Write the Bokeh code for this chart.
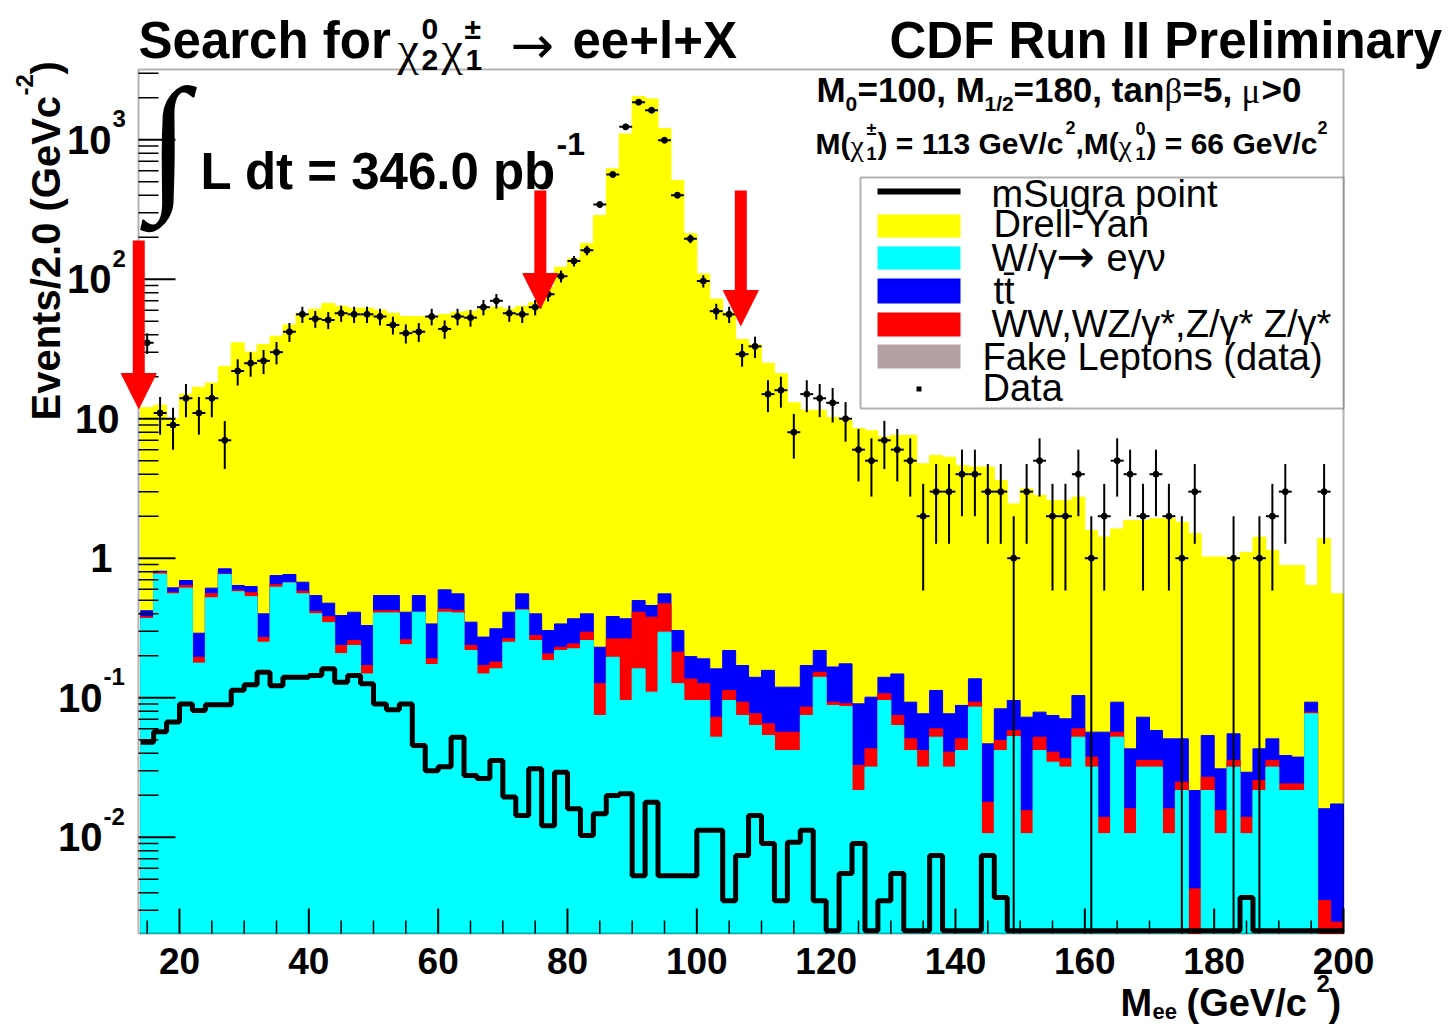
import numpy as np
from bokeh.plotting import figure
from bokeh.models import Range1d, Label, BoxAnnotation, Arrow, NormalHead
from bokeh.embed import file_html
from bokeh.resources import INLINE

# ---------------- data ----------------
bin_low_edge = 14.0
bin_width = 2.0

data_counts = [35, 11, 9, 14, 11, 14, 7, 22, 25, 26,
               30, 42, 56, 52, 51, 57, 56, 56, 54, 47,
               41, 42, 54, 44, 54, 53, 63, 70, 57, 56,
               63, 78, 105, 135, 161, 343, 563, 1236, 1858, 1626,
               991, 400, 195, 97, 59, 56, 29, 33, 15, 16,
               8, 15, 14, 13, 10, 6, 5, 7, 6, 5,
               2, 3, 3, 4, 4, 3, 3, 1, 3, 5,
               2, 2, 4, 1, 2, 5, 4, 2, 4, 2,
               1, 3, 0, 0, 1, 0, 1, 2, 3, 0,
               0, 3, 0]

# cumulative stack heights (top edge of each coloured layer)
drell_yan_top = [12, 12.5, 10, 15, 16.8, 18, 23.7, 35, 30, 34,
                 39, 47, 56, 61, 67, 64, 62, 62, 60, 57,
                 54, 54, 52, 56, 58, 59, 61, 63, 61, 64,
                 68, 88, 122, 140, 180, 286, 618, 1100, 2040, 1960,
                 1200, 510, 212, 109, 72, 58, 37, 34, 25, 21,
                 13, 11.5, 11.5, 10.2, 9.7, 8.5, 8.2, 7.4, 7.6, 7.6,
                 4.75, 5.45, 5.3, 4.6, 4.5, 4.5, 3.6, 2.45, 3.14, 2.82,
                 2.59, 2.59, 2.74, 1.58, 1.42, 1.62, 1.86, 1.86, 1.92, 1.92,
                 1.81, 1.5, 1.02, 1.02, 1.02, 1.1, 1.415, 1.136, 0.886, 0.886,
                 0.637, 1.38, 0.555]

ttbar_top = [0.42, 0.807, 0.613, 0.692, 0.29, 0.61, 0.839, 0.637, 0.627, 0.399,
             0.751, 0.764, 0.673, 0.54, 0.476, 0.388, 0.41, 0.329, 0.54, 0.54,
             0.41, 0.54, 0.338, 0.593, 0.555, 0.348, 0.272, 0.312, 0.41, 0.555,
             0.399, 0.303, 0.338, 0.368, 0.399, 0.230, 0.382, 0.368, 0.497, 0.458,
             0.555, 0.303, 0.197, 0.190, 0.161, 0.218, 0.170, 0.140, 0.157, 0.119,
             0.119, 0.170, 0.218, 0.166, 0.175, 0.0904, 0.1009, 0.140, 0.148, 0.0929,
             0.0767, 0.1126, 0.0767, 0.088, 0.1366, 0.0467, 0.0832, 0.0955, 0.0725, 0.0788,
             0.0746, 0.0706, 0.1037, 0.0566, 0.0566, 0.0929, 0.043, 0.0725, 0.0582, 0.0507,
             0.0507, 0.0216, 0.0536, 0.0309, 0.0551, 0.0292, 0.043, 0.0507, 0.0385, 0.0375,
             0.0929, 0.016, 0.0173]

diboson_top = [0.38, 0.79, 0.57, 0.635, 0.195, 0.555, 0.77, 0.59, 0.565, 0.27,
               0.645, 0.67, 0.58, 0.415, 0.38, 0.237, 0.257, 0.17, 0.42, 0.42,
               0.26, 0.41, 0.19, 0.43, 0.42, 0.237, 0.17, 0.18, 0.265, 0.43,
               0.279, 0.206, 0.230, 0.243, 0.295, 0.126, 0.264, 0.264, 0.410, 0.378,
               0.471, 0.212, 0.136, 0.126, 0.0725, 0.1126, 0.0929, 0.0767, 0.065, 0.0566,
               0.0566, 0.0856, 0.152, 0.0929, 0.0904, 0.0327, 0.043, 0.1066, 0.0746, 0.0507,
               0.0418, 0.0598, 0.0407, 0.0507, 0.0929, 0.0178, 0.0493, 0.0582, 0.0155, 0.0521,
               0.0407, 0.0365, 0.0598, 0.0375, 0.0139, 0.0566, 0.016, 0.0355, 0.0355, 0.016,
               0.0248, 0.00426, 0.0269, 0.0155, 0.0355, 0.0139, 0.0255, 0.0355, 0.0241, 0.0241,
               0.0788, 0.00352, 0.00246]

w_gamma_top = [0.37, 0.77, 0.555, 0.61, 0.177, 0.52, 0.765, 0.575, 0.53, 0.25,
               0.62, 0.665, 0.555, 0.40, 0.345, 0.207, 0.237, 0.148, 0.405, 0.405,
               0.24, 0.41, 0.173, 0.41, 0.405, 0.218, 0.148, 0.161, 0.25, 0.425,
               0.257, 0.185, 0.218, 0.224, 0.257, 0.0746, 0.195, 0.0955, 0.161, 0.1096,
               0.295, 0.126, 0.0955, 0.0955, 0.0521, 0.0955, 0.0746, 0.0632, 0.0536, 0.0418,
               0.0418, 0.0746, 0.140, 0.088, 0.0865, 0.0216, 0.0318, 0.0955, 0.0632, 0.0418,
               0.0318, 0.0521, 0.0318, 0.0418, 0.0856, 0.0106, 0.0418, 0.0527, 0.0106, 0.0418,
               0.0345, 0.0318, 0.0521, 0.0318, 0.0106, 0.0521, 0.0106, 0.0318, 0.0318, 0.0106,
               0.0216, 0, 0.0216, 0.0106, 0.0318, 0.0106, 0.0216, 0.0318, 0.0216, 0.0216,
               0.0767, 0, 0]

msugra = [0.048, 0.057, 0.067, 0.090, 0.081, 0.089, 0.089, 0.113, 0.124, 0.152,
          0.122, 0.140, 0.140, 0.144, 0.161, 0.129, 0.144, 0.126, 0.090, 0.082,
          0.090, 0.0454, 0.030, 0.032, 0.052, 0.0277, 0.0263, 0.0355, 0.0194, 0.0143,
          0.0309, 0.0121, 0.0292, 0.0160, 0.0103, 0.0147, 0.0199, 0.0205, 0.0053, 0.0178,
          0.0053, 0.0053, 0.0053, 0.0112, 0.0112, 0.0035, 0.0074, 0.0143, 0.0090, 0.0035,
          0.0092, 0.0112, 0.0035, 0, 0.0055, 0.0090, 0, 0.0035, 0.0055, 0,
          0, 0.0074, 0, 0, 0, 0.0074, 0.0037, 0, 0, 0,
          0, 0, 0, 0, 0, 0, 0, 0, 0, 0,
          0, 0, 0, 0, 0, 0.0037, 0, 0, 0, 0,
          0, 0, 0]

x_major_ticks = [20, 40, 60, 80, 100, 120, 140, 160, 180, 200]
x_minor_ticks = [v for v in range(15, 201, 5) if v % 20]
y_decades = [-2, -1, 0, 1, 2, 3]
cut_arrow_x = [13.7, 75.8, 106.8]

legend_entries = ["mSugra point", "Drell-Yan", "W/\u03b3", "tt\u0304",
                  "WW,WZ/\u03b3*,Z/\u03b3* Z/\u03b3*", "Fake Leptons (data)", "Data"]
legend_colors = [None, "#ffff00", "#00ffff", "#0000ff", "#ff0000", "#b3a1a1", None]

# ---------------- geometry (frame of the histogram inside the canvas) ----------------
W, H = 1450, 1026
FL, FR, FT, FB = 138, 1343, 69, 933
X0, X1 = 13.66, 200.0
LY0, LY1 = -2.6903, 3.5032
Y0, Y1 = 10 ** LY0, 10 ** LY1


def px2x(px):
    return X0 + (px - FL) * (X1 - X0) / (FR - FL)


def x2px(x):
    return FL + (x - X0) * (FR - FL) / (X1 - X0)


def py2y(py):
    return 10 ** (LY1 - (py - FT) * (LY1 - LY0) / (FB - FT))


def ly2py(ly):
    return FT + (LY1 - ly) * (FB - FT) / (LY1 - LY0)


# the plotting frame covers the whole canvas; the histogram box is drawn inside it
p = figure(width=W, height=H, x_range=Range1d(px2x(0), px2x(W)),
           y_range=Range1d(py2y(H), py2y(0)), y_axis_type="log",
           x_axis_location=None, y_axis_location=None,
           output_backend="svg", toolbar_location=None, title_location=None,
           min_border=0, min_border_left=0, min_border_right=0,
           min_border_top=0, min_border_bottom=0)
p.background_fill_color = "white"
p.border_fill_color = "white"
p.outline_line_color = None
p.grid.visible = False

# ---------------- histograms ----------------
n_bins = len(data_counts)
edges = bin_low_edge + bin_width * np.arange(n_bins + 1)
left, right = edges[:-1], edges[1:]
centers = 0.5 * (left + right)

for tops, color in [(drell_yan_top, "#ffff00"), (ttbar_top, "#0000ff"),
                    (diboson_top, "#ff0000"), (w_gamma_top, "#00ffff")]:
    t = np.asarray(tops, float)
    m = t > 0
    p.quad(left=left[m], right=right[m], bottom=Y0, top=t[m],
           fill_color=color, line_color=color, line_width=1)

ms = np.asarray(msugra, float)
ms_plot = np.where(ms > 0, ms, Y0 * 1.045)
p.step(x=np.append(left, right[-1]), y=np.append(ms_plot, ms_plot[-1]), mode="after",
       line_color="black", line_width=5)

n = np.asarray(data_counts, float)
m = n > 0
err = np.sqrt(n)
lo = np.maximum(n - err, Y0)
hi = n + err
p.segment(x0=centers[m], y0=lo[m], x1=centers[m], y1=hi[m], line_color="black", line_width=2)
p.segment(x0=left[m], y0=n[m], x1=right[m], y1=n[m], line_color="black", line_width=2)
p.scatter(centers[m], n[m], size=6, color="black")

# ---------------- axes: ticks drawn inward ----------------
yd = np.array(y_decades, float)
y_major = 10.0 ** yd
y_minor = np.array([k * 10.0 ** d for d in range(-3, 4) for k in range(2, 10)
                    if Y0 <= k * 10.0 ** d <= Y1])
p.segment(x0=np.full(len(y_major), X0), y0=y_major, x1=np.full(len(y_major), px2x(FL + 37)),
          y1=y_major, line_color="black", line_width=2)
p.segment(x0=np.full(len(y_minor), X0), y0=y_minor, x1=np.full(len(y_minor), px2x(FL + 20)),
          y1=y_minor, line_color="black", line_width=1.5)
xm = np.array(x_major_ticks, float)
xn = np.array(x_minor_ticks, float)
p.segment(x0=xm, y0=np.full(len(xm), Y0), x1=xm, y1=np.full(len(xm), py2y(FB - 25)),
          line_color="black", line_width=2)
p.segment(x0=xn, y0=np.full(len(xn), Y0), x1=xn, y1=np.full(len(xn), py2y(FB - 13)),
          line_color="black", line_width=1.5)

p.add_layout(BoxAnnotation(left=X0, right=X1, bottom=Y0, top=Y1, fill_alpha=0.0,
                           fill_color=None, line_color="black", line_width=2))

# ---------------- cut arrows ----------------
arrow_py = [(240, 408), (190, 308), (190, 325)]
for ax_, (ys, ye) in zip(cut_arrow_x, arrow_py):
    p.add_layout(Arrow(end=NormalHead(size=35, fill_color="#ff0000", line_color="#ff0000"),
                       x_start=ax_, y_start=py2y(ys), x_end=ax_, y_end=py2y(ye),
                       line_color="#ff0000", line_width=12))


# ---------------- texts (py = vertical centre) ----------------
def txt(s, px, py, size, bold=True, font="Liberation Sans", align="left", angle=0):
    p.add_layout(Label(x=px2x(px), y=py2y(py), text=s, text_font=font,
                       text_font_size=f"{size}px",
                       text_font_style="bold" if bold else "normal",
                       text_align=align, text_baseline="middle", angle=angle,
                       angle_units="deg", text_color="black"))


# title
txt("Search for", 138, 40, 51)
txt("\u03c7", 397, 48, 48, bold=False, font="Liberation Serif")
txt("0", 421, 28, 30)
txt("2", 421, 59, 30)
txt("\u03c7", 441, 48, 48, bold=False, font="Liberation Serif")
txt("\u00b1", 464, 28, 30)
txt("1", 465, 59, 30)
txt("\u2192", 510, 44, 52, bold=False, font="DejaVu Sans")
txt("ee+l+X", 572, 40, 51)
txt("CDF Run II Preliminary", 889, 40, 51)

# parameters
txt("M", 816, 89, 35)
txt("0", 845, 103, 21)
txt("=100, M", 857, 89, 35)
txt("1/2", 984, 103, 21)
txt("=180, tan", 1013, 89, 35)
txt("\u03b2", 1164, 91, 35, bold=False, font="Liberation Serif")
txt("=5, ", 1182, 89, 35)
txt("\u03bc", 1241, 91, 35, bold=False, font="Liberation Serif")
txt(">0", 1261, 89, 35)

txt("M(", 815, 143, 30)
txt("\u03c7", 850, 145, 30, bold=False, font="Liberation Serif")
txt("\u00b1", 866, 128, 18)
txt("1", 866, 153, 18)
txt(") = 113 GeV/c", 877, 143, 30)
txt("2", 1065, 127, 18)
txt(",M(", 1075, 143, 30)
txt("\u03c7", 1118, 145, 30, bold=False, font="Liberation Serif")
txt("0", 1135, 128, 18)
txt("1", 1135, 153, 18)
txt(") = 66 GeV/c", 1146, 143, 30)
txt("2", 1317, 127, 18)

# luminosity
txt("\u222b", 168, 140, 150, bold=False, font="Liberation Serif", align="center")
txt("L dt = 346.0 pb", 200, 171, 51)
txt("-1", 556, 143, 32)

# y tick labels
for d in y_decades:
    py = ly2py(d)
    if d == 0:
        txt("1", 112, py, 40, align="right")
    elif d == 1:
        txt("10", 119, py, 40, align="right")
    elif d > 1:
        txt("10", 111, py, 40, align="right")
        txt(str(d), 112, py - 21, 24)
    else:
        txt("10", 102, py, 40, align="right")
        txt(str(d), 103, py - 21, 24)

# x tick labels
for v in x_major_ticks:
    txt(str(v), x2px(v), 960, 37, align="center")

# axis titles
txt("Events/2.0 (GeVc", 45, 420, 40, angle=90)
txt("-2", 24, 95, 24, angle=90)
txt(")", 45, 74, 40, angle=90)

txt("M", 1120, 1002, 38)
txt("ee", 1152, 1011, 22)
txt("(GeV/c", 1186, 1002, 38)
txt("2", 1316, 983, 24)
txt(")", 1328, 1002, 38)

# ---------------- legend ----------------
p.add_layout(BoxAnnotation(left=px2x(860), right=X1, top=py2y(177), bottom=py2y(408),
                           fill_color="white", fill_alpha=1.0, line_color="black",
                           line_width=2))
swatch_rows = [(188, 194), (214, 237), (246, 269), (278, 303), (312, 336), (344, 368), None]
text_rows = [(991, 193), (993, 223), (991, 257), (993, 290), (991, 323), (982, 356), (982, 387)]
for label, color, sw, (tx, ty) in zip(legend_entries, legend_colors, swatch_rows, text_rows):
    if sw is not None:
        p.add_layout(BoxAnnotation(left=px2x(877), right=px2x(960), top=py2y(sw[0]),
                                   bottom=py2y(sw[1]), fill_color=color or "black",
                                   fill_alpha=1.0, line_color=None))
    txt(label, tx, ty, 38, bold=False)
txt("\u2192", 1056, 255, 46, bold=False, font="DejaVu Sans")
txt("e\u03b3\u03bd", 1106, 257, 38, bold=False)
p.add_layout(BoxAnnotation(left=px2x(916), right=px2x(921), top=py2y(386), bottom=py2y(391),
                           fill_color="black", fill_alpha=1.0, line_color=None))

open("out.html", "w").write(file_html(p, INLINE))
